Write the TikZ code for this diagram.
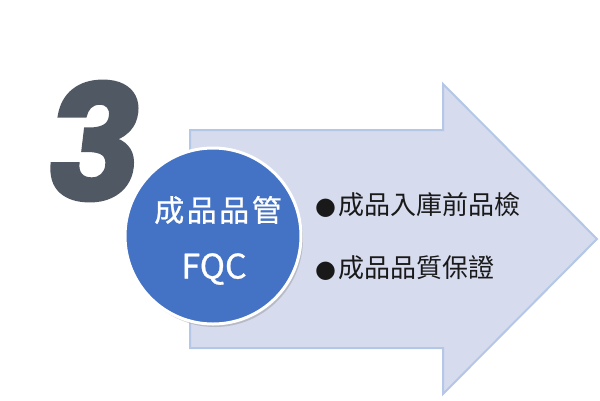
\documentclass[tikz,border=0pt]{standalone}
\usepackage{fontspec}
\newfontfamily\cjk{Noto Sans CJK TC}
\newfontfamily\cjkbadge{Noto Sans CJK TC}[FakeBold=0.8]
\newfontfamily\numfont{Poppins}[BoldFeatures={FakeSlant=0.12,FakeBold=1.5}]
\newfontfamily\dejavu{DejaVu Sans}
\usetikzlibrary{shadows}
\definecolor{arrowfill}{RGB}{214,219,238}
\definecolor{arrowline}{RGB}{180,199,231}
\definecolor{circfill}{RGB}{68,114,196}
\definecolor{numgray}{RGB}{80,89,99}
\definecolor{txtdark}{RGB}{25,25,25}
\tikzset{
  bigarrow/.style={fill=arrowfill, draw=arrowline, line width=2pt, line join=miter},
  badge/.style={circle, fill=circfill, draw=white, line width=3pt, minimum size=176pt, inner sep=0pt,
    drop shadow={opacity=0.35, shadow xshift=2pt, shadow yshift=-3pt}},
  bullettext/.style={anchor=west, inner sep=0pt, font=\cjk\fontsize{26}{30}\selectfont, text=txtdark},
  badgetext/.style={inner sep=0pt, font=\cjkbadge\fontsize{30}{34}\selectfont, text=white},
}
\newcommand{\bul}{{\dejavu\fontsize{24}{24}\selectfont ●}\hspace{2pt}}
\begin{document}
\begin{tikzpicture}[x=1pt,y=-1pt]
\useasboundingbox (0,0) rectangle (600,400);
\draw[bigarrow] (190,130) coordinate (s1) -- (443,130) -- (443,84) -- (597,239) coordinate (tip) -- (443,394) -- (443,348) -- (190,348) -- cycle;
\node[inner sep=0pt, text=numgray, font=\numfont\bfseries\fontsize{160}{160}\selectfont] (num) at (89,141) {3};
\node[badge] (badge) at (213,236) {};
\node[badgetext] (t1) at (218,210) {成\hspace{2.5pt}品\hspace{2.5pt}品\hspace{2.5pt}管};
\node[badgetext, font=\cjkbadge\fontsize{34}{38}\selectfont] (t2) at (214,269) {FQC};
\node[bullettext] (b1) at (315,205) {\bul 成品入庫前品檢};
\node[bullettext] (b2) at (315,268) {\bul 成品品質保證};
\end{tikzpicture}
\end{document}
